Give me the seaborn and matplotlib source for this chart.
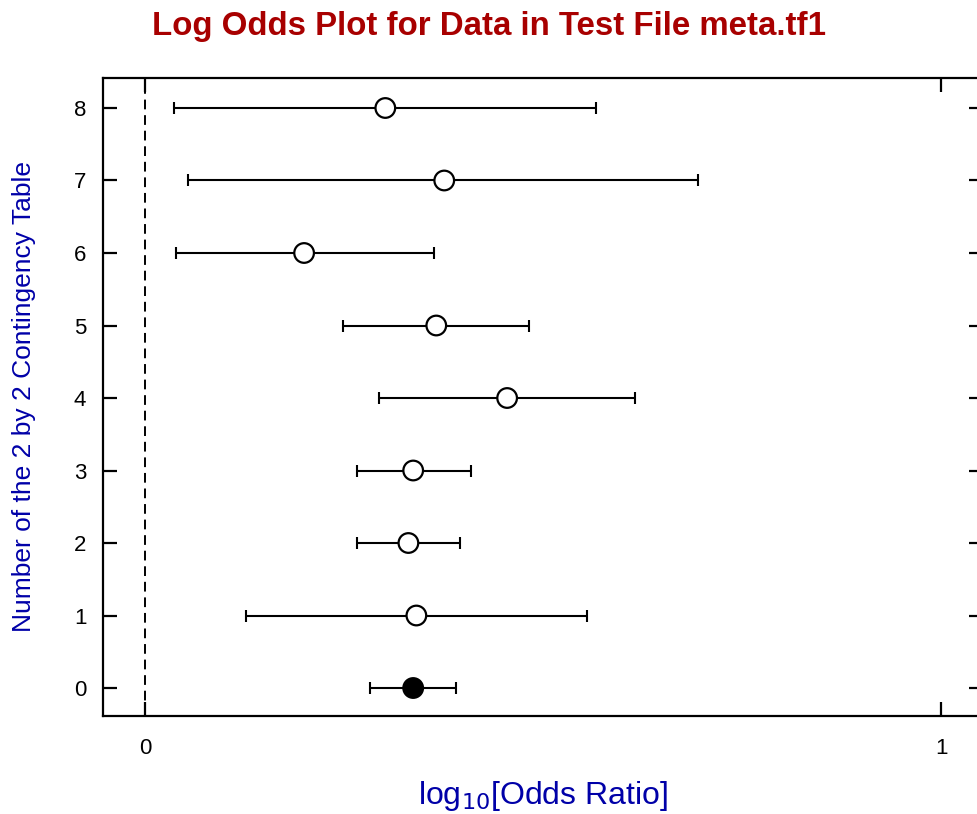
import matplotlib
matplotlib.use('Agg')
import matplotlib.pyplot as plt
import numpy as np
import pandas as pd
import seaborn as sns

# table number (0 = pooled estimate) and log10 odds ratio with limits
table = [8, 7, 6, 5, 4, 3, 2, 1, 0]
log_or = [0.302, 0.376, 0.200, 0.366, 0.455, 0.337, 0.331, 0.341, 0.337]
lower = [0.037, 0.054, 0.039, 0.249, 0.294, 0.267, 0.267, 0.127, 0.283]
upper = [0.566, 0.695, 0.363, 0.482, 0.616, 0.409, 0.396, 0.555, 0.391]

df = pd.DataFrame(dict(table=table, log_or=log_or, lower=lower, upper=upper))
df['kind'] = np.where(df['table'] == 0, 'pooled', 'single')

sns.set_theme(style='white')
plt.rcParams['font.family'] = ['Liberation Sans', 'DejaVu Sans']

fig = plt.figure(figsize=(9.77, 8.14), dpi=100)
ax = fig.add_axes([0.1054, 0.1204, 0.9007, 0.7838])

ax.axvline(0, color='black', lw=1.4, ls=(0, (5, 3)), zorder=1)

ax.errorbar(df['log_or'], df['table'],
            xerr=[df['log_or'] - df['lower'], df['upper'] - df['log_or']],
            fmt='none', ecolor='black', elinewidth=1.5, capsize=4.5,
            capthick=1.5, zorder=2)

sns.scatterplot(data=df, x='log_or', y='table', hue='kind',
                palette={'single': 'white', 'pooled': 'black'},
                s=200, edgecolor='black', linewidth=1.6, legend=False,
                zorder=3, ax=ax)

ax.set_xlim(-0.0526, 1.0526)
ax.set_ylim(-0.386, 8.414)
ax.set_xticks([0, 1])
ax.set_xticklabels(['0', '1'])
ax.set_yticks(range(9))

for sp in ax.spines.values():
    sp.set_color('black')
    sp.set_linewidth(1.6)

ax.tick_params(axis='both', which='major', direction='in', length=10,
               width=1.6, color='black', labelsize=16, labelcolor='black',
               top=True, right=True, bottom=True, left=True, pad=12)
ax.tick_params(axis='x', pad=16)

ax.set_xlabel('log$_{10}$[Odds Ratio]', fontsize=23, color='#0000a8',
              labelpad=14)
ax.set_ylabel('Number of the 2 by 2 Contingency Table', fontsize=19,
              color='#0000a8', labelpad=27)
fig.text(0.5, 0.968, 'Log Odds Plot for Data in Test File meta.tf1',
         ha='center', va='center', fontsize=23.8, fontweight='bold',
         color='#a80000')

fig.savefig('out.png', dpi=100)
